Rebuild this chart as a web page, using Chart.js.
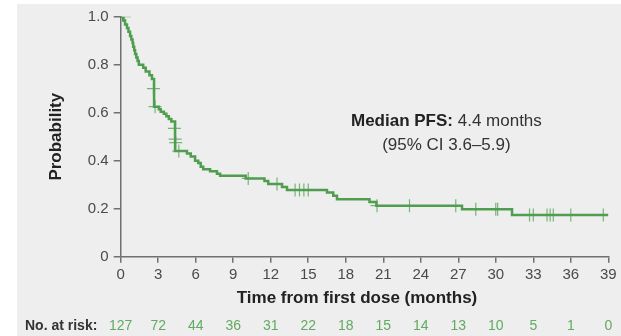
<!DOCTYPE html>
<html>
<head>
<meta charset="utf-8">
<script src="https://cdn.jsdelivr.net/npm/chart.js@4.4.1/dist/chart.umd.min.js"></script>
<style>
html,body{margin:0;padding:0;background:#ffffff;width:621px;height:336px;overflow:hidden;}
#bg{position:absolute;left:17px;top:4px;width:604px;height:332px;background:#eeeeee;}
#wrap{position:absolute;left:0;top:0;width:621px;height:336px;}
canvas{display:block;}
</style>
</head>
<body>
<div id="bg"></div>
<div id="wrap"><canvas id="c" width="621" height="336"></canvas></div>
<script>
// Kaplan–Meier step points (time in months, survival probability after the step)
const eventTimes = [0, 0.2, 0.35, 0.5, 0.62, 0.75, 0.85, 0.95, 1.0, 1.08, 1.15, 1.25, 1.35, 1.45,
  1.8, 2.0, 2.3, 2.5, 2.67, 3.05, 3.2, 3.45, 3.65, 3.85, 4.05, 4.35, 5.3, 5.6, 5.95, 6.2, 6.4,
  6.6, 7.15, 7.7, 7.95, 10.0, 11.5, 11.8, 12.9, 13.3, 16.5, 17.0, 17.3, 19.9, 20.45, 27.3, 31.3, 39.0];
const survival = [1.0, 0.984, 0.968, 0.953, 0.937, 0.92, 0.905, 0.89, 0.875, 0.86, 0.845, 0.83, 0.815, 0.80,
  0.787, 0.772, 0.756, 0.74, 0.625, 0.614, 0.604, 0.596, 0.585, 0.574, 0.563, 0.44, 0.43, 0.417, 0.40, 0.39, 0.375,
  0.364, 0.356, 0.346, 0.3375, 0.326, 0.315, 0.303, 0.29, 0.278, 0.267, 0.254, 0.239, 0.228, 0.2125, 0.1975, 0.174, 0.174];

// Censored observations
const censorTimes = [0.3, 2.62, 2.75, 4.3, 4.35, 4.4, 4.65, 10.2, 12.5, 13.95, 14.3, 14.65, 15.0,
  20.5, 23.1, 26.8, 28.4, 30.0, 30.15, 32.7, 33.0, 34.1, 34.35, 34.6, 36.0, 38.6];
const censorSurv = [1.0, 0.70, 0.625, 0.535, 0.49, 0.475, 0.44, 0.326, 0.303, 0.278, 0.278, 0.278, 0.278,
  0.2125, 0.2125, 0.2125, 0.1975, 0.1975, 0.1975, 0.174, 0.174, 0.174, 0.174, 0.174, 0.174, 0.174];

// Number at risk table
const riskTimes = [0, 3, 6, 9, 12, 15, 18, 21, 24, 27, 30, 33, 36, 39];
const atRisk = [127, 72, 44, 36, 31, 22, 18, 15, 14, 13, 10, 5, 1, 0];

const xTitle = 'Time from first dose (months)';
const yTitle = 'Probability';
const riskLabel = 'No. at risk:';
const annBold = 'Median PFS:';
const annRest = ' 4.4 months';
const annLine2 = '(95% CI 3.6\u20135.9)';

const FONT = '"Liberation Sans", Arial, Helvetica, sans-serif';
const GREEN = '#4f9d4f';

const overlay = {
  id: 'overlay',
  afterDraw(chart) {
    const ctx = chart.ctx;
    const xs = chart.scales.x, ys = chart.scales.y;
    ctx.save();
    ctx.textBaseline = 'middle';
    // annotation
    const cx = xs.getPixelForValue(26.05);
    const cy1 = ys.getPixelForValue(0.565);
    const cy2 = ys.getPixelForValue(0.465);
    ctx.font = 'bold 17px ' + FONT;
    const w1 = ctx.measureText(annBold).width;
    ctx.font = '17px ' + FONT;
    const w2 = ctx.measureText(annRest).width;
    let sx = cx - (w1 + w2) / 2;
    ctx.textAlign = 'left';
    ctx.fillStyle = '#222222';
    ctx.font = 'bold 17px ' + FONT;
    ctx.fillText(annBold, sx, cy1);
    ctx.fillStyle = '#333333';
    ctx.font = '17px ' + FONT;
    ctx.fillText(annRest, sx + w1, cy1);
    ctx.textAlign = 'center';
    ctx.fillText(annLine2, cx, cy2);
    // x axis title
    ctx.fillStyle = '#222222';
    ctx.font = 'bold 17px ' + FONT;
    ctx.fillText(xTitle, xs.getPixelForValue(18.9), 298);
    // risk table
    const ry = 326;
    ctx.textAlign = 'left';
    ctx.fillStyle = '#333333';
    ctx.font = 'bold 14px ' + FONT;
    ctx.fillText(riskLabel, 25, ry);
    ctx.textAlign = 'center';
    ctx.font = '14px ' + FONT;
    ctx.fillStyle = '#62aa62';
    riskTimes.forEach((t, i) => {
      ctx.fillText(String(atRisk[i]), xs.getPixelForValue(t), ry);
    });
    ctx.restore();
  }
};

new Chart(document.getElementById('c'), {
  type: 'scatter',
  data: {
    datasets: [
      {
        data: eventTimes.map((t, i) => ({x: t, y: survival[i]})),
        showLine: true,
        stepped: 'before',
        borderColor: GREEN,
        borderWidth: 2.5,
        pointRadius: 0,
        fill: false
      },
      {
        data: censorTimes.map((t, i) => ({x: t, y: censorSurv[i]})),
        showLine: false,
        pointStyle: 'cross',
        pointRadius: 6.5,
        borderColor: 'rgba(90,165,90,0.8)',
        borderWidth: 1.2
      }
    ]
  },
  options: {
    responsive: false,
    animation: false,
    devicePixelRatio: 1,
    layout: {padding: {left: 0, right: 12.7, top: 16.7, bottom: 0}},
    plugins: {legend: {display: false}, tooltip: {enabled: false}},
    scales: {
      x: {
        type: 'linear', min: 0, max: 39,
        afterFit: s => { s.height = 79.3; },
        ticks: {stepSize: 3, color: '#4a4a4a', padding: 3, font: {family: FONT, size: 15}, maxRotation: 0},
        grid: {display: true, drawOnChartArea: false, drawTicks: true, tickLength: 6, color: '#707070', lineWidth: 1.5},
        border: {display: true, color: '#707070', width: 1.5},
        title: {display: false}
      },
      y: {
        type: 'linear', min: 0, max: 1,
        afterFit: s => { s.width = 120.7; },
        ticks: {stepSize: 0.2, color: '#4a4a4a', padding: 5, font: {family: FONT, size: 15},
          callback: v => (v === 0 ? '0' : v.toFixed(1))},
        grid: {display: true, drawOnChartArea: false, drawTicks: true, tickLength: 7, color: '#707070', lineWidth: 1.5},
        border: {display: true, color: '#707070', width: 1.5},
        title: {display: true, text: yTitle, color: '#222222', font: {family: FONT, size: 17, weight: 'bold'}, padding: {top: 46, bottom: 0}}
      }
    }
  },
  plugins: [overlay]
});
</script>
</body>
</html>
